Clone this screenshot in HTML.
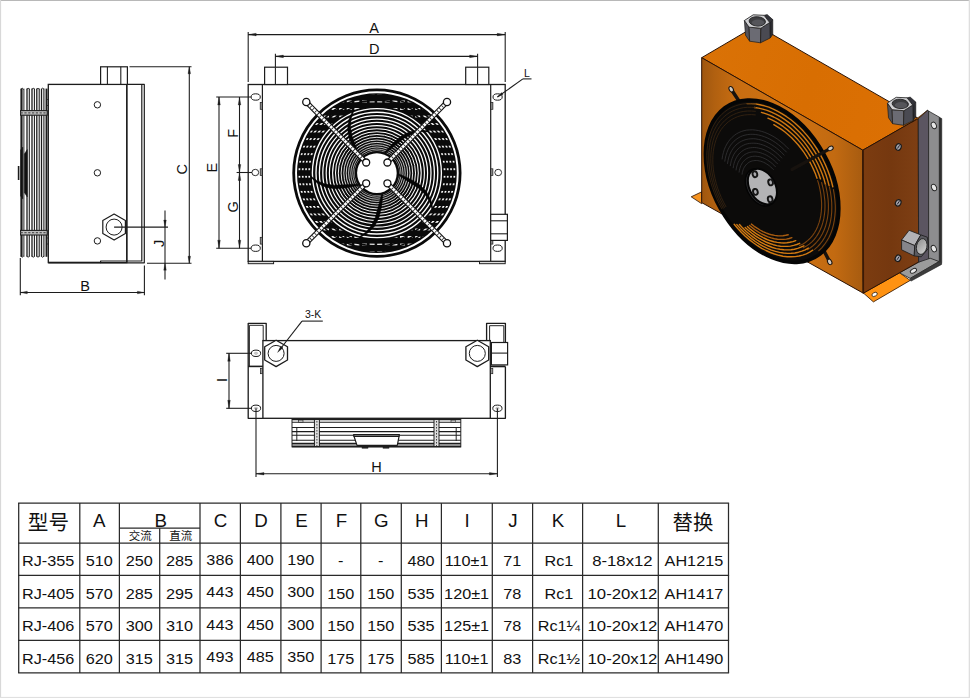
<!DOCTYPE html>
<html><head><meta charset="utf-8"><title>RJ air cooler dimensions</title>
<style>
html,body{margin:0;padding:0;background:#fff;}
body{width:970px;height:698px;overflow:hidden;font-family:"Liberation Sans",sans-serif;}
svg{display:block;font-family:"Liberation Sans",sans-serif;}
</style></head><body>
<svg width="970" height="698" viewBox="0 0 970 698">
<rect x="0" y="0" width="970" height="698" fill="#ffffff"/>
<g id="table">
<line x1="18.1" y1="503.1" x2="729.1" y2="503.1" stroke="#2a2a2a" stroke-width="1.25" />
<line x1="18.1" y1="543.0" x2="729.1" y2="543.0" stroke="#2a2a2a" stroke-width="1.25" />
<line x1="18.1" y1="575.4" x2="729.1" y2="575.4" stroke="#2a2a2a" stroke-width="1.25" />
<line x1="18.1" y1="607.9" x2="729.1" y2="607.9" stroke="#2a2a2a" stroke-width="1.25" />
<line x1="18.1" y1="640.4" x2="729.1" y2="640.4" stroke="#2a2a2a" stroke-width="1.25" />
<line x1="18.1" y1="672.9" x2="729.1" y2="672.9" stroke="#2a2a2a" stroke-width="1.25" />
<line x1="18.7" y1="503.1" x2="18.7" y2="672.9" stroke="#2a2a2a" stroke-width="1.25" />
<line x1="79.8" y1="503.1" x2="79.8" y2="672.9" stroke="#2a2a2a" stroke-width="1.25" />
<line x1="119.4" y1="503.1" x2="119.4" y2="672.9" stroke="#2a2a2a" stroke-width="1.25" />
<line x1="159.7" y1="528.2" x2="159.7" y2="672.9" stroke="#2a2a2a" stroke-width="1.25" />
<line x1="200.0" y1="503.1" x2="200.0" y2="672.9" stroke="#2a2a2a" stroke-width="1.25" />
<line x1="240.4" y1="503.1" x2="240.4" y2="672.9" stroke="#2a2a2a" stroke-width="1.25" />
<line x1="280.9" y1="503.1" x2="280.9" y2="672.9" stroke="#2a2a2a" stroke-width="1.25" />
<line x1="321.1" y1="503.1" x2="321.1" y2="672.9" stroke="#2a2a2a" stroke-width="1.25" />
<line x1="360.8" y1="503.1" x2="360.8" y2="672.9" stroke="#2a2a2a" stroke-width="1.25" />
<line x1="401.3" y1="503.1" x2="401.3" y2="672.9" stroke="#2a2a2a" stroke-width="1.25" />
<line x1="441.4" y1="503.1" x2="441.4" y2="672.9" stroke="#2a2a2a" stroke-width="1.25" />
<line x1="492.3" y1="503.1" x2="492.3" y2="672.9" stroke="#2a2a2a" stroke-width="1.25" />
<line x1="532.6" y1="503.1" x2="532.6" y2="672.9" stroke="#2a2a2a" stroke-width="1.25" />
<line x1="582.6" y1="503.1" x2="582.6" y2="672.9" stroke="#2a2a2a" stroke-width="1.25" />
<line x1="658.3" y1="503.1" x2="658.3" y2="672.9" stroke="#2a2a2a" stroke-width="1.25" />
<line x1="728.5" y1="503.1" x2="728.5" y2="672.9" stroke="#2a2a2a" stroke-width="1.25" />
<line x1="119.4" y1="528.2" x2="200.0" y2="528.2" stroke="#2a2a2a" stroke-width="1.25" />
<text x="48.45" y="530.2" font-size="20.6" text-anchor="middle" fill="#111" style="font-family:'Liberation Sans','Noto Sans CJK SC',sans-serif">型号</text>
<text transform="translate(99.3 527.2) scale(1.04 1)" font-size="18" text-anchor="middle" fill="#111">A</text>
<text transform="translate(160.7 527.2) scale(1.04 1)" font-size="18" text-anchor="middle" fill="#111">B</text>
<text x="140.35" y="539.7" font-size="11.5" text-anchor="middle" fill="#111" style="font-family:'Liberation Sans','Noto Sans CJK SC',sans-serif">交流</text>
<text x="180.65" y="539.7" font-size="11.5" text-anchor="middle" fill="#111" style="font-family:'Liberation Sans','Noto Sans CJK SC',sans-serif">直流</text>
<text transform="translate(220.6 527.2) scale(1.04 1)" font-size="18" text-anchor="middle" fill="#111">C</text>
<text transform="translate(261.0 527.2) scale(1.04 1)" font-size="18" text-anchor="middle" fill="#111">D</text>
<text transform="translate(301.4 527.2) scale(1.04 1)" font-size="18" text-anchor="middle" fill="#111">E</text>
<text transform="translate(341.4 527.2) scale(1.04 1)" font-size="18" text-anchor="middle" fill="#111">F</text>
<text transform="translate(381.4 527.2) scale(1.04 1)" font-size="18" text-anchor="middle" fill="#111">G</text>
<text transform="translate(421.8 527.2) scale(1.04 1)" font-size="18" text-anchor="middle" fill="#111">H</text>
<text transform="translate(467.2 527.2) scale(1.04 1)" font-size="18" text-anchor="middle" fill="#111">I</text>
<text transform="translate(512.9 527.2) scale(1.04 1)" font-size="18" text-anchor="middle" fill="#111">J</text>
<text transform="translate(558.0 527.2) scale(1.04 1)" font-size="18" text-anchor="middle" fill="#111">K</text>
<text transform="translate(620.9 527.2) scale(1.04 1)" font-size="18" text-anchor="middle" fill="#111">L</text>
<text x="693.0" y="530.0" font-size="20.4" text-anchor="middle" fill="#111" style="font-family:'Liberation Sans','Noto Sans CJK SC',sans-serif">替换</text>
<text transform="translate(48.1 566.2) scale(1.055 1)" font-size="15.4" text-anchor="middle" fill="#111">RJ-355</text>
<text transform="translate(99.3 566.2) scale(1.055 1)" font-size="15.4" text-anchor="middle" fill="#111">510</text>
<text transform="translate(139.2 566.2) scale(1.055 1)" font-size="15.4" text-anchor="middle" fill="#111">250</text>
<text transform="translate(179.5 566.2) scale(1.055 1)" font-size="15.4" text-anchor="middle" fill="#111">285</text>
<text transform="translate(219.9 565.0) scale(1.055 1)" font-size="15.4" text-anchor="middle" fill="#111">386</text>
<text transform="translate(260.3 565.0) scale(1.055 1)" font-size="15.4" text-anchor="middle" fill="#111">400</text>
<text transform="translate(300.7 565.0) scale(1.055 1)" font-size="15.4" text-anchor="middle" fill="#111">190</text>
<text transform="translate(340.7 566.2) scale(1.055 1)" font-size="15.4" text-anchor="middle" fill="#111">-</text>
<text transform="translate(380.8 566.2) scale(1.055 1)" font-size="15.4" text-anchor="middle" fill="#111">-</text>
<text transform="translate(421.1 566.2) scale(1.055 1)" font-size="15.4" text-anchor="middle" fill="#111">480</text>
<text transform="translate(466.6 566.2) scale(1.055 1)" font-size="15.4" text-anchor="middle" fill="#111">110±1</text>
<text transform="translate(512.2 566.2) scale(1.055 1)" font-size="15.4" text-anchor="middle" fill="#111">71</text>
<text transform="translate(558.9 566.2) scale(1.055 1)" font-size="15.4" text-anchor="middle" fill="#111">Rc1</text>
<text transform="translate(622.4 566.2) scale(1.08665 1)" font-size="15.4" text-anchor="middle" fill="#111">8-18x12</text>
<text transform="translate(693.9 566.2) scale(1.055 1)" font-size="15.4" text-anchor="middle" fill="#111">AH1215</text>
<text transform="translate(48.1 598.6) scale(1.055 1)" font-size="15.4" text-anchor="middle" fill="#111">RJ-405</text>
<text transform="translate(99.3 598.6) scale(1.055 1)" font-size="15.4" text-anchor="middle" fill="#111">570</text>
<text transform="translate(139.2 598.6) scale(1.055 1)" font-size="15.4" text-anchor="middle" fill="#111">285</text>
<text transform="translate(179.5 598.6) scale(1.055 1)" font-size="15.4" text-anchor="middle" fill="#111">295</text>
<text transform="translate(219.9 597.4) scale(1.055 1)" font-size="15.4" text-anchor="middle" fill="#111">443</text>
<text transform="translate(260.3 597.4) scale(1.055 1)" font-size="15.4" text-anchor="middle" fill="#111">450</text>
<text transform="translate(300.7 597.4) scale(1.055 1)" font-size="15.4" text-anchor="middle" fill="#111">300</text>
<text transform="translate(340.7 598.6) scale(1.055 1)" font-size="15.4" text-anchor="middle" fill="#111">150</text>
<text transform="translate(380.8 598.6) scale(1.055 1)" font-size="15.4" text-anchor="middle" fill="#111">150</text>
<text transform="translate(421.1 598.6) scale(1.055 1)" font-size="15.4" text-anchor="middle" fill="#111">535</text>
<text transform="translate(466.6 598.6) scale(1.055 1)" font-size="15.4" text-anchor="middle" fill="#111">120±1</text>
<text transform="translate(512.2 598.6) scale(1.055 1)" font-size="15.4" text-anchor="middle" fill="#111">78</text>
<text transform="translate(558.9 598.6) scale(1.055 1)" font-size="15.4" text-anchor="middle" fill="#111">Rc1</text>
<text transform="translate(622.4 598.6) scale(1.08665 1)" font-size="15.4" text-anchor="middle" fill="#111">10-20x12</text>
<text transform="translate(693.9 598.6) scale(1.055 1)" font-size="15.4" text-anchor="middle" fill="#111">AH1417</text>
<text transform="translate(48.1 631.1) scale(1.055 1)" font-size="15.4" text-anchor="middle" fill="#111">RJ-406</text>
<text transform="translate(99.3 631.1) scale(1.055 1)" font-size="15.4" text-anchor="middle" fill="#111">570</text>
<text transform="translate(139.2 631.1) scale(1.055 1)" font-size="15.4" text-anchor="middle" fill="#111">300</text>
<text transform="translate(179.5 631.1) scale(1.055 1)" font-size="15.4" text-anchor="middle" fill="#111">310</text>
<text transform="translate(219.9 629.9) scale(1.055 1)" font-size="15.4" text-anchor="middle" fill="#111">443</text>
<text transform="translate(260.3 629.9) scale(1.055 1)" font-size="15.4" text-anchor="middle" fill="#111">450</text>
<text transform="translate(300.7 629.9) scale(1.055 1)" font-size="15.4" text-anchor="middle" fill="#111">300</text>
<text transform="translate(340.7 631.1) scale(1.055 1)" font-size="15.4" text-anchor="middle" fill="#111">150</text>
<text transform="translate(380.8 631.1) scale(1.055 1)" font-size="15.4" text-anchor="middle" fill="#111">150</text>
<text transform="translate(421.1 631.1) scale(1.055 1)" font-size="15.4" text-anchor="middle" fill="#111">535</text>
<text transform="translate(466.6 631.1) scale(1.055 1)" font-size="15.4" text-anchor="middle" fill="#111">125±1</text>
<text transform="translate(512.2 631.1) scale(1.055 1)" font-size="15.4" text-anchor="middle" fill="#111">78</text>
<text transform="translate(558.9 631.1) scale(1.055 1)" font-size="15.4" text-anchor="middle" fill="#111">Rc1¼</text>
<text transform="translate(622.4 631.1) scale(1.08665 1)" font-size="15.4" text-anchor="middle" fill="#111">10-20x12</text>
<text transform="translate(693.9 631.1) scale(1.055 1)" font-size="15.4" text-anchor="middle" fill="#111">AH1470</text>
<text transform="translate(48.1 663.6) scale(1.055 1)" font-size="15.4" text-anchor="middle" fill="#111">RJ-456</text>
<text transform="translate(99.3 663.6) scale(1.055 1)" font-size="15.4" text-anchor="middle" fill="#111">620</text>
<text transform="translate(139.2 663.6) scale(1.055 1)" font-size="15.4" text-anchor="middle" fill="#111">315</text>
<text transform="translate(179.5 663.6) scale(1.055 1)" font-size="15.4" text-anchor="middle" fill="#111">315</text>
<text transform="translate(219.9 662.4) scale(1.055 1)" font-size="15.4" text-anchor="middle" fill="#111">493</text>
<text transform="translate(260.3 662.4) scale(1.055 1)" font-size="15.4" text-anchor="middle" fill="#111">485</text>
<text transform="translate(300.7 662.4) scale(1.055 1)" font-size="15.4" text-anchor="middle" fill="#111">350</text>
<text transform="translate(340.7 663.6) scale(1.055 1)" font-size="15.4" text-anchor="middle" fill="#111">175</text>
<text transform="translate(380.8 663.6) scale(1.055 1)" font-size="15.4" text-anchor="middle" fill="#111">175</text>
<text transform="translate(421.1 663.6) scale(1.055 1)" font-size="15.4" text-anchor="middle" fill="#111">585</text>
<text transform="translate(466.6 663.6) scale(1.055 1)" font-size="15.4" text-anchor="middle" fill="#111">110±1</text>
<text transform="translate(512.2 663.6) scale(1.055 1)" font-size="15.4" text-anchor="middle" fill="#111">83</text>
<text transform="translate(558.9 663.6) scale(1.055 1)" font-size="15.4" text-anchor="middle" fill="#111">Rc1½</text>
<text transform="translate(622.4 663.6) scale(1.08665 1)" font-size="15.4" text-anchor="middle" fill="#111">10-20x12</text>
<text transform="translate(693.9 663.6) scale(1.055 1)" font-size="15.4" text-anchor="middle" fill="#111">AH1490</text>
</g>
<g id="side">
<line x1="21.5" y1="88.6" x2="21.5" y2="256.8" stroke="#1c1c1c" stroke-width="2.2" />
<line x1="23.9" y1="88.6" x2="23.9" y2="256.8" stroke="#1c1c1c" stroke-width="0.96" />
<line x1="27.0" y1="88.6" x2="27.0" y2="256.8" stroke="#1c1c1c" stroke-width="1.3" />
<line x1="29.3" y1="88.6" x2="29.3" y2="256.8" stroke="#1c1c1c" stroke-width="1.08" />
<line x1="32.0" y1="88.6" x2="32.0" y2="256.8" stroke="#1c1c1c" stroke-width="1.3" />
<line x1="34.4" y1="88.6" x2="34.4" y2="256.8" stroke="#1c1c1c" stroke-width="1.08" />
<line x1="36.8" y1="88.6" x2="36.8" y2="256.8" stroke="#1c1c1c" stroke-width="1.3" />
<line x1="39.2" y1="88.6" x2="39.2" y2="256.8" stroke="#1c1c1c" stroke-width="1.08" />
<line x1="41.5" y1="88.6" x2="41.5" y2="256.8" stroke="#1c1c1c" stroke-width="1.3" />
<line x1="43.9" y1="88.6" x2="43.9" y2="256.8" stroke="#1c1c1c" stroke-width="1.08" />
<line x1="46.5" y1="88.6" x2="46.5" y2="256.8" stroke="#1c1c1c" stroke-width="1.9" />
<path d="M20.8 89.5 Q22.2 86.8 23.6 89.5" fill="none" stroke="#1c1c1c" stroke-width="0.9"/>
<path d="M20.8 256 Q22.2 258.6 23.6 256" fill="none" stroke="#1c1c1c" stroke-width="0.9"/>
<path d="M26.7 89.5 Q28.1 86.8 29.5 89.5" fill="none" stroke="#1c1c1c" stroke-width="0.9"/>
<path d="M26.7 256 Q28.1 258.6 29.5 256" fill="none" stroke="#1c1c1c" stroke-width="0.9"/>
<path d="M31.8 89.5 Q33.2 86.8 34.6 89.5" fill="none" stroke="#1c1c1c" stroke-width="0.9"/>
<path d="M31.8 256 Q33.2 258.6 34.6 256" fill="none" stroke="#1c1c1c" stroke-width="0.9"/>
<path d="M36.6 89.5 Q38.0 86.8 39.4 89.5" fill="none" stroke="#1c1c1c" stroke-width="0.9"/>
<path d="M36.6 256 Q38.0 258.6 39.4 256" fill="none" stroke="#1c1c1c" stroke-width="0.9"/>
<path d="M41.3 89.5 Q42.7 86.8 44.1 89.5" fill="none" stroke="#1c1c1c" stroke-width="0.9"/>
<path d="M41.3 256 Q42.7 258.6 44.1 256" fill="none" stroke="#1c1c1c" stroke-width="0.9"/>
<rect x="20.6" y="110.6" width="26.6" height="4.6" fill="#bdbdbd" stroke="#1c1c1c" stroke-width="1.08"/>
<line x1="20.6" y1="112.9" x2="47.2" y2="112.9" stroke="#555" stroke-width="1.2" stroke-dasharray="2.2 1.6"/>
<rect x="20.6" y="230.4" width="26.6" height="4.6" fill="#bdbdbd" stroke="#1c1c1c" stroke-width="1.08"/>
<line x1="20.6" y1="232.7" x2="47.2" y2="232.7" stroke="#555" stroke-width="1.2" stroke-dasharray="2.2 1.6"/>
<path d="M20.6 150.0 L22.8 147.0 L22.8 199.0 L20.6 196.0 Z" fill="#111" stroke="#1c1c1c" stroke-width="0.5" stroke-linejoin="round" />
<path d="M24.3 154.0 L27.3 149.5 L27.3 197.0 L24.3 192.5 Z" fill="#111" stroke="#1c1c1c" stroke-width="0.5" stroke-linejoin="round" />
<line x1="18.6" y1="166.0" x2="18.6" y2="180.0" stroke="#1c1c1c" stroke-width="1.6" />
<rect x="46.6" y="99.5" width="1.8" height="6.0" fill="none" stroke="#1c1c1c" stroke-width="0.7"/>
<rect x="46.6" y="238.0" width="1.8" height="6.0" fill="none" stroke="#1c1c1c" stroke-width="0.7"/>
<rect x="48.3" y="84.4" width="78.5" height="178.2" fill="#fff" stroke="#1c1c1c" stroke-width="1.32"/>
<line x1="126.8" y1="84.4" x2="126.8" y2="262.6" stroke="#1c1c1c" stroke-width="1.2" />
<path d="M126.8 84.4 L144.3 84.4 L144.3 262.8 L100.6 262.8 L100.6 261.0 L141.8 261.0 L141.8 84.4" fill="none" stroke="#1c1c1c" stroke-width="1.2" stroke-linejoin="round" />
<line x1="48.3" y1="262.6" x2="100.6" y2="262.6" stroke="#1c1c1c" stroke-width="1.6" />
<rect x="100.6" y="66.8" width="26.8" height="17.6" fill="#fff" stroke="#1c1c1c" stroke-width="1.2"/>
<line x1="107.4" y1="66.8" x2="107.4" y2="84.4" stroke="#1c1c1c" stroke-width="1.08" />
<line x1="120.8" y1="66.8" x2="120.8" y2="84.4" stroke="#1c1c1c" stroke-width="1.08" />
<circle cx="97.4" cy="104.8" r="3.20" fill="none" stroke="#1c1c1c" stroke-width="1" />
<circle cx="97.4" cy="172.8" r="3.20" fill="none" stroke="#1c1c1c" stroke-width="1" />
<circle cx="97.4" cy="240.9" r="3.20" fill="none" stroke="#1c1c1c" stroke-width="1" />
<path d="M114.1 240.1 L102.8 233.6 L102.8 220.6 L114.1 214.1 L125.4 220.6 L125.4 233.6 Z" fill="#fff" stroke="#1c1c1c" stroke-width="1.2" stroke-linejoin="round" />
<circle cx="114.1" cy="227.1" r="8.00" fill="none" stroke="#1c1c1c" stroke-width="1" />
<line x1="129.5" y1="66.8" x2="191.5" y2="66.8" stroke="#1c1c1c" stroke-width="1.08" />
<line x1="147.0" y1="263.2" x2="191.5" y2="263.2" stroke="#1c1c1c" stroke-width="1.08" />
<line x1="189.3" y1="66.8" x2="189.3" y2="263.2" stroke="#1c1c1c" stroke-width="1.08" />
<path d="M189.3 66.8 L190.6 73.8 L188.0 73.8 Z" fill="#1c1c1c" stroke="#1c1c1c" stroke-width="0.3" stroke-linejoin="round" />
<path d="M189.3 263.2 L188.0 256.2 L190.6 256.2 Z" fill="#1c1c1c" stroke="#1c1c1c" stroke-width="0.3" stroke-linejoin="round" />
<text transform="translate(186.9 169.2) rotate(-90)" font-size="14.5" text-anchor="middle" fill="#111">C</text>
<line x1="114.1" y1="227.1" x2="168.0" y2="227.1" stroke="#1c1c1c" stroke-width="1.08" />
<line x1="165.0" y1="210.6" x2="165.0" y2="279.6" stroke="#1c1c1c" stroke-width="1.08" />
<path d="M165.0 227.1 L163.7 220.1 L166.3 220.1 Z" fill="#1c1c1c" stroke="#1c1c1c" stroke-width="0.3" stroke-linejoin="round" />
<path d="M165.0 263.2 L166.3 270.2 L163.7 270.2 Z" fill="#1c1c1c" stroke="#1c1c1c" stroke-width="0.3" stroke-linejoin="round" />
<text transform="translate(163.8 243.4) rotate(-90)" font-size="14.5" text-anchor="middle" fill="#111">J</text>
<line x1="20.3" y1="258.0" x2="20.3" y2="295.2" stroke="#1c1c1c" stroke-width="1.08" />
<line x1="144.4" y1="265.6" x2="144.4" y2="295.2" stroke="#1c1c1c" stroke-width="1.08" />
<line x1="20.3" y1="292.5" x2="144.4" y2="292.5" stroke="#1c1c1c" stroke-width="1.08" />
<path d="M20.3 292.5 L27.3 291.2 L27.3 293.8 Z" fill="#1c1c1c" stroke="#1c1c1c" stroke-width="0.3" stroke-linejoin="round" />
<path d="M144.4 292.5 L137.4 293.8 L137.4 291.2 Z" fill="#1c1c1c" stroke="#1c1c1c" stroke-width="0.3" stroke-linejoin="round" />
<text x="85.2" y="290.9" font-size="14.5" text-anchor="middle" fill="#111" >B</text>
</g>
<g id="front">
<rect x="248.2" y="84.5" width="257.0" height="176.9" fill="#fff" stroke="#1c1c1c" stroke-width="1.32"/>
<line x1="262.4" y1="84.5" x2="262.4" y2="261.4" stroke="#1c1c1c" stroke-width="1.2" />
<line x1="490.7" y1="84.5" x2="490.7" y2="261.4" stroke="#1c1c1c" stroke-width="1.2" />
<rect x="248.2" y="261.4" width="25.4" height="2.3" fill="#ddd" stroke="#1c1c1c" stroke-width="0.96"/>
<rect x="479.5" y="261.4" width="25.7" height="2.3" fill="#ddd" stroke="#1c1c1c" stroke-width="0.96"/>
<rect x="264.6" y="67.2" width="22.9" height="17.3" fill="#fff" stroke="#1c1c1c" stroke-width="1.2"/>
<line x1="275.4" y1="67.2" x2="275.4" y2="84.5" stroke="#1c1c1c" stroke-width="1.08" />
<rect x="465.7" y="67.2" width="23.1" height="17.3" fill="#fff" stroke="#1c1c1c" stroke-width="1.2"/>
<line x1="477.6" y1="67.2" x2="477.6" y2="84.5" stroke="#1c1c1c" stroke-width="1.08" />
<ellipse cx="255.7" cy="97.0" rx="4.60" ry="3.20" fill="none" stroke="#1c1c1c" stroke-width="1.0" />
<ellipse cx="255.7" cy="248.2" rx="4.60" ry="3.20" fill="none" stroke="#1c1c1c" stroke-width="1.0" />
<ellipse cx="255.3" cy="172.5" rx="3.40" ry="3.20" fill="none" stroke="#1c1c1c" stroke-width="0.9" />
<ellipse cx="497.6" cy="97.0" rx="4.60" ry="3.20" fill="none" stroke="#1c1c1c" stroke-width="1.0" />
<ellipse cx="497.6" cy="248.2" rx="4.60" ry="3.20" fill="none" stroke="#1c1c1c" stroke-width="1.0" />
<ellipse cx="498.2" cy="172.5" rx="3.40" ry="3.20" fill="none" stroke="#1c1c1c" stroke-width="0.9" />
<rect x="260.2" y="102.5" width="2.2" height="6.8" fill="#888" stroke="#1c1c1c" stroke-width="0.7"/>
<rect x="260.2" y="168.8" width="2.2" height="6.8" fill="#888" stroke="#1c1c1c" stroke-width="0.7"/>
<rect x="260.2" y="237.3" width="2.2" height="6.8" fill="#888" stroke="#1c1c1c" stroke-width="0.7"/>
<rect x="490.7" y="102.5" width="2.2" height="6.8" fill="#888" stroke="#1c1c1c" stroke-width="0.7"/>
<rect x="490.7" y="168.8" width="2.2" height="6.8" fill="#888" stroke="#1c1c1c" stroke-width="0.7"/>
<rect x="490.7" y="237.3" width="2.2" height="6.8" fill="#888" stroke="#1c1c1c" stroke-width="0.7"/>
<rect x="490.7" y="214.3" width="16.7" height="26.1" fill="#fff" stroke="#1c1c1c" stroke-width="1.2"/>
<line x1="490.7" y1="220.8" x2="507.4" y2="220.8" stroke="#1c1c1c" stroke-width="1.08" />
<line x1="490.7" y1="233.8" x2="507.4" y2="233.8" stroke="#1c1c1c" stroke-width="1.08" />
<circle cx="376.9" cy="173.1" r="42.30" fill="none" stroke="#0a0a0a" stroke-width="84.6" />
<circle cx="376.9" cy="173.1" r="80.85" fill="none" stroke="#fff" stroke-width="1.9" />
<defs><pattern id="scanp" patternUnits="userSpaceOnUse" x="0" y="100.55" width="20" height="7.53"><rect x="0" y="0" width="20" height="1.75" fill="#fff"/></pattern><mask id="scanm" maskUnits="userSpaceOnUse" x="285" y="80" width="185" height="185"><rect x="285" y="80" width="185" height="185" fill="#000"/><rect x="285" y="80" width="185" height="185" fill="url(#scanp)"/><rect x="329.0" y="80" width="2.6" height="185" fill="#000"/><rect x="336.6" y="80" width="2.6" height="185" fill="#000"/><rect x="344.2" y="80" width="2.6" height="185" fill="#000"/><rect x="351.8" y="80" width="2.6" height="185" fill="#000"/><rect x="359.4" y="80" width="2.6" height="185" fill="#000"/><rect x="367.0" y="80" width="2.6" height="185" fill="#000"/><rect x="374.6" y="80" width="2.6" height="185" fill="#000"/><rect x="382.2" y="80" width="2.6" height="185" fill="#000"/><rect x="389.8" y="80" width="2.6" height="185" fill="#000"/><rect x="397.4" y="80" width="2.6" height="185" fill="#000"/><rect x="405.0" y="80" width="2.6" height="185" fill="#000"/><rect x="412.6" y="80" width="2.6" height="185" fill="#000"/><rect x="420.2" y="80" width="2.6" height="185" fill="#000"/></mask></defs>
<g mask="url(#scanm)">
<circle cx="376.9" cy="173.1" r="77.60" fill="none" stroke="#fff" stroke-width="1.7" />
<circle cx="376.9" cy="173.1" r="74.30" fill="none" stroke="#fff" stroke-width="1.7" />
<circle cx="376.9" cy="173.1" r="71.00" fill="none" stroke="#fff" stroke-width="1.7" />
<circle cx="376.9" cy="173.1" r="67.80" fill="none" stroke="#fff" stroke-width="1.7" />
</g>
<circle cx="376.9" cy="173.1" r="64.50" fill="none" stroke="#fff" stroke-width="1.35" />
<circle cx="376.9" cy="173.1" r="60.90" fill="none" stroke="#fff" stroke-width="1.35" />
<circle cx="376.9" cy="173.1" r="57.50" fill="none" stroke="#fff" stroke-width="1.3" />
<circle cx="376.9" cy="173.1" r="54.10" fill="none" stroke="#fff" stroke-width="1.25" />
<circle cx="376.9" cy="173.1" r="50.70" fill="none" stroke="#fff" stroke-width="1.2" />
<circle cx="376.9" cy="173.1" r="47.50" fill="none" stroke="#fff" stroke-width="1.15" />
<circle cx="376.9" cy="173.1" r="44.30" fill="none" stroke="#fff" stroke-width="1.1" />
<circle cx="376.9" cy="173.1" r="41.40" fill="none" stroke="#fff" stroke-width="1.05" />
<circle cx="376.9" cy="173.1" r="38.60" fill="none" stroke="#fff" stroke-width="1.0" />
<circle cx="376.9" cy="173.1" r="35.80" fill="none" stroke="#fff" stroke-width="0.9" />
<circle cx="376.9" cy="173.1" r="33.10" fill="none" stroke="#fff" stroke-width="0.85" />
<circle cx="376.9" cy="173.1" r="30.70" fill="none" stroke="#fff" stroke-width="0.8" />
<circle cx="376.9" cy="173.1" r="28.30" fill="none" stroke="#fff" stroke-width="0.75" />
<circle cx="376.9" cy="173.1" r="26.10" fill="none" stroke="#fff" stroke-width="0.7" />
<circle cx="376.9" cy="173.1" r="24.10" fill="none" stroke="#fff" stroke-width="0.65" />
<circle cx="376.9" cy="173.1" r="22.30" fill="none" stroke="#fff" stroke-width="0.6" />
<path d="M360.1 184.9 L355.9 186.0 L346.7 187.8 L335.5 188.8 L326.1 187.4 L317.8 183.5 L310.5 177.2 L310.5 175.8 L317.4 180.9 L325.3 184.1 L334.3 185.2 L345.4 184.8 L355.0 184.2 L359.7 184.2 Z" fill="#050505" stroke="#050505" stroke-width="0.5" stroke-linejoin="round"/>
<path d="M360.5 160.8 L358.2 157.1 L353.6 148.9 L349.1 138.6 L347.6 129.2 L348.7 120.1 L352.5 111.2 L353.8 110.7 L351.1 119.0 L350.5 127.4 L352.2 136.3 L356.0 146.8 L359.6 155.7 L361.0 160.1 Z" fill="#050505" stroke="#050505" stroke-width="0.5" stroke-linejoin="round"/>
<path d="M383.6 153.7 L386.3 150.4 L392.7 143.4 L401.2 136.0 L409.6 131.7 L418.6 129.9 L428.2 130.8 L429.1 131.9 L420.4 131.8 L412.2 133.9 L404.2 138.2 L395.5 145.1 L388.1 151.2 L384.3 154.0 Z" fill="#050505" stroke="#050505" stroke-width="0.5" stroke-linejoin="round"/>
<path d="M397.4 173.5 L401.4 175.0 L410.0 178.9 L419.7 184.7 L426.4 191.4 L430.8 199.4 L433.0 208.8 L432.2 210.0 L429.6 201.7 L425.1 194.6 L418.5 188.3 L409.3 182.2 L401.2 177.0 L397.4 174.3 Z" fill="#050505" stroke="#050505" stroke-width="0.5" stroke-linejoin="round"/>
<path d="M382.9 192.7 L382.6 197.0 L381.6 206.4 L379.1 217.3 L374.8 225.9 L368.5 232.5 L360.2 237.5 L358.9 237.1 L366.0 232.1 L371.4 225.6 L375.3 217.4 L378.3 206.7 L380.7 197.4 L382.1 192.9 Z" fill="#050505" stroke="#050505" stroke-width="0.5" stroke-linejoin="round"/>
<circle cx="376.9" cy="173.1" r="21.00" fill="none" stroke="#0a0a0a" stroke-width="2.4" />
<circle cx="376.9" cy="173.1" r="19.80" fill="#fff" stroke="none" stroke-width="0" />
<line x1="366.2" y1="162.5" x2="306.3" y2="102.0" stroke="#111" stroke-width="5.0" />
<line x1="366.2" y1="162.5" x2="306.3" y2="102.0" stroke="#fff" stroke-width="2.8" />
<line x1="366.2" y1="162.5" x2="306.3" y2="102.0" stroke="#222" stroke-width="2.8" stroke-dasharray="0.8 2.6"/>
<circle cx="306.3" cy="102.0" r="3.60" fill="#fff" stroke="#111" stroke-width="1.3" />
<circle cx="366.2" cy="162.5" r="3.50" fill="#fff" stroke="#111" stroke-width="1.3" />
<line x1="387.4" y1="162.5" x2="447.0" y2="102.0" stroke="#111" stroke-width="5.0" />
<line x1="387.4" y1="162.5" x2="447.0" y2="102.0" stroke="#fff" stroke-width="2.8" />
<line x1="387.4" y1="162.5" x2="447.0" y2="102.0" stroke="#222" stroke-width="2.8" stroke-dasharray="0.8 2.6"/>
<circle cx="447.0" cy="102.0" r="3.60" fill="#fff" stroke="#111" stroke-width="1.3" />
<circle cx="387.4" cy="162.5" r="3.50" fill="#fff" stroke="#111" stroke-width="1.3" />
<line x1="366.2" y1="183.3" x2="306.3" y2="243.2" stroke="#111" stroke-width="5.0" />
<line x1="366.2" y1="183.3" x2="306.3" y2="243.2" stroke="#fff" stroke-width="2.8" />
<line x1="366.2" y1="183.3" x2="306.3" y2="243.2" stroke="#222" stroke-width="2.8" stroke-dasharray="0.8 2.6"/>
<circle cx="306.3" cy="243.2" r="3.60" fill="#fff" stroke="#111" stroke-width="1.3" />
<circle cx="366.2" cy="183.3" r="3.50" fill="#fff" stroke="#111" stroke-width="1.3" />
<line x1="387.4" y1="183.3" x2="447.0" y2="243.2" stroke="#111" stroke-width="5.0" />
<line x1="387.4" y1="183.3" x2="447.0" y2="243.2" stroke="#fff" stroke-width="2.8" />
<line x1="387.4" y1="183.3" x2="447.0" y2="243.2" stroke="#222" stroke-width="2.8" stroke-dasharray="0.8 2.6"/>
<circle cx="447.0" cy="243.2" r="3.60" fill="#fff" stroke="#111" stroke-width="1.3" />
<circle cx="387.4" cy="183.3" r="3.50" fill="#fff" stroke="#111" stroke-width="1.3" />
<line x1="248.2" y1="32.0" x2="248.2" y2="82.0" stroke="#1c1c1c" stroke-width="1.08" />
<line x1="505.2" y1="32.0" x2="505.2" y2="82.0" stroke="#1c1c1c" stroke-width="1.08" />
<line x1="248.2" y1="34.6" x2="505.2" y2="34.6" stroke="#1c1c1c" stroke-width="1.08" />
<path d="M248.2 34.6 L256.2 33.3 L256.2 35.9 Z" fill="#1c1c1c" stroke="#1c1c1c" stroke-width="0.3" stroke-linejoin="round" />
<path d="M505.2 34.6 L497.2 35.9 L497.2 33.3 Z" fill="#1c1c1c" stroke="#1c1c1c" stroke-width="0.3" stroke-linejoin="round" />
<text x="374.2" y="33.4" font-size="14.5" text-anchor="middle" fill="#111" >A</text>
<line x1="275.4" y1="53.8" x2="275.4" y2="67.0" stroke="#1c1c1c" stroke-width="1.08" />
<line x1="477.6" y1="53.8" x2="477.6" y2="67.0" stroke="#1c1c1c" stroke-width="1.08" />
<line x1="275.4" y1="56.4" x2="477.6" y2="56.4" stroke="#1c1c1c" stroke-width="1.08" />
<path d="M275.4 56.4 L283.4 55.1 L283.4 57.7 Z" fill="#1c1c1c" stroke="#1c1c1c" stroke-width="0.3" stroke-linejoin="round" />
<path d="M477.6 56.4 L469.6 57.7 L469.6 55.1 Z" fill="#1c1c1c" stroke="#1c1c1c" stroke-width="0.3" stroke-linejoin="round" />
<text x="374.2" y="54.2" font-size="14.5" text-anchor="middle" fill="#111" >D</text>
<line x1="216.2" y1="97.0" x2="251.0" y2="97.0" stroke="#1c1c1c" stroke-width="1.08" />
<line x1="216.2" y1="248.2" x2="251.0" y2="248.2" stroke="#1c1c1c" stroke-width="1.08" />
<line x1="236.6" y1="172.5" x2="252.0" y2="172.5" stroke="#1c1c1c" stroke-width="1.08" />
<line x1="219.0" y1="97.0" x2="219.0" y2="248.2" stroke="#1c1c1c" stroke-width="1.08" />
<path d="M219.0 97.0 L220.3 105.0 L217.7 105.0 Z" fill="#1c1c1c" stroke="#1c1c1c" stroke-width="0.3" stroke-linejoin="round" />
<path d="M219.0 248.2 L217.7 240.2 L220.3 240.2 Z" fill="#1c1c1c" stroke="#1c1c1c" stroke-width="0.3" stroke-linejoin="round" />
<line x1="239.5" y1="97.0" x2="239.5" y2="248.2" stroke="#1c1c1c" stroke-width="1.08" />
<path d="M239.5 97.0 L240.8 105.0 L238.2 105.0 Z" fill="#1c1c1c" stroke="#1c1c1c" stroke-width="0.3" stroke-linejoin="round" />
<path d="M239.5 248.2 L238.2 240.2 L240.8 240.2 Z" fill="#1c1c1c" stroke="#1c1c1c" stroke-width="0.3" stroke-linejoin="round" />
<path d="M239.5 172.5 L238.2 164.5 L240.8 164.5 Z" fill="#1c1c1c" stroke="#1c1c1c" stroke-width="0.3" stroke-linejoin="round" />
<path d="M239.5 172.5 L240.8 180.5 L238.2 180.5 Z" fill="#1c1c1c" stroke="#1c1c1c" stroke-width="0.3" stroke-linejoin="round" />
<text transform="translate(217.3 167.6) rotate(-90)" font-size="14.5" text-anchor="middle" fill="#111">E</text>
<text transform="translate(237.6 133.3) rotate(-90)" font-size="14.5" text-anchor="middle" fill="#111">F</text>
<text transform="translate(237.6 206.8) rotate(-90)" font-size="14.5" text-anchor="middle" fill="#111">G</text>
<line x1="497.4" y1="97.0" x2="522.9" y2="78.9" stroke="#1c1c1c" stroke-width="1.08" />
<line x1="522.9" y1="78.9" x2="531.5" y2="78.9" stroke="#1c1c1c" stroke-width="1.08" />
<path d="M497.4 97.0 L501.6 92.6 L503.0 94.5 Z" fill="#1c1c1c" stroke="#1c1c1c" stroke-width="0.3" stroke-linejoin="round" />
<text x="526.8" y="76.6" font-size="10.5" text-anchor="middle" fill="#111" >L</text>
</g>
<g id="plan">
<rect x="262.9" y="340.6" width="227.4" height="77.7" fill="#fff" stroke="#1c1c1c" stroke-width="1.32"/>
<path d="M262.9 418.3 L248.2 418.3 L248.2 323.3 L266.2 323.3 L266.2 340.6" fill="none" stroke="#1c1c1c" stroke-width="1.32" stroke-linejoin="round" />
<path d="M249.4 366.0 L249.4 325.3 L263.2 325.3 L263.2 340.6" fill="none" stroke="#1c1c1c" stroke-width="0.96" stroke-linejoin="round" />
<line x1="248.2" y1="366.4" x2="262.9" y2="366.4" stroke="#1c1c1c" stroke-width="1.6" />
<rect x="260.4" y="368.5" width="2.2" height="5.2" fill="#999" stroke="#1c1c1c" stroke-width="0.7"/>
<path d="M490.3 418.3 L505.4 418.3 L505.4 366.4" fill="none" stroke="#1c1c1c" stroke-width="1.32" stroke-linejoin="round" />
<path d="M486.6 340.6 L486.6 323.3 L505.4 323.3 L505.4 342.5" fill="none" stroke="#1c1c1c" stroke-width="1.32" stroke-linejoin="round" />
<path d="M489.6 340.6 L489.6 325.7 L503.8 325.7 L503.8 342.5" fill="none" stroke="#1c1c1c" stroke-width="0.96" stroke-linejoin="round" />
<rect x="491.4" y="342.5" width="16.2" height="22.4" fill="#fff" stroke="#1c1c1c" stroke-width="1.2"/>
<line x1="491.4" y1="353.1" x2="507.6" y2="353.1" stroke="#1c1c1c" stroke-width="1.08" />
<line x1="490.3" y1="366.4" x2="505.4" y2="366.4" stroke="#1c1c1c" stroke-width="1.8" />
<rect x="490.6" y="368.5" width="2.2" height="5.2" fill="#999" stroke="#1c1c1c" stroke-width="0.7"/>
<ellipse cx="256.0" cy="353.3" rx="4.60" ry="3.20" fill="none" stroke="#1c1c1c" stroke-width="1.0" />
<ellipse cx="256.0" cy="353.3" rx="1.70" ry="1.10" fill="#ccc" stroke="#aaa" stroke-width="0.6" />
<ellipse cx="256.0" cy="408.3" rx="4.60" ry="3.20" fill="none" stroke="#1c1c1c" stroke-width="1.0" />
<ellipse cx="256.0" cy="408.3" rx="1.70" ry="1.10" fill="#ccc" stroke="#aaa" stroke-width="0.6" />
<ellipse cx="497.4" cy="408.3" rx="4.60" ry="3.20" fill="none" stroke="#1c1c1c" stroke-width="1.0" />
<ellipse cx="497.4" cy="408.3" rx="1.70" ry="1.10" fill="#ccc" stroke="#aaa" stroke-width="0.6" />
<path d="M276.1 366.6 L264.7 360.0 L264.7 346.8 L276.1 340.2 L287.5 346.8 L287.5 360.0 Z" fill="#fff" stroke="#1c1c1c" stroke-width="1.32" stroke-linejoin="round" />
<circle cx="276.1" cy="353.4" r="8.00" fill="none" stroke="#1c1c1c" stroke-width="1" />
<path d="M477.3 366.6 L465.9 360.0 L465.9 346.8 L477.3 340.2 L488.7 346.8 L488.7 360.0 Z" fill="#fff" stroke="#1c1c1c" stroke-width="1.32" stroke-linejoin="round" />
<circle cx="477.3" cy="353.4" r="8.00" fill="none" stroke="#1c1c1c" stroke-width="1" />
<rect x="292.0" y="418.9" width="168.8" height="28.0" fill="#fff" stroke="#1c1c1c" stroke-width="0.96"/>
<line x1="292.0" y1="419.4" x2="460.8" y2="419.4" stroke="#1c1c1c" stroke-width="1.8" />
<line x1="292.0" y1="422.3" x2="460.8" y2="422.3" stroke="#1c1c1c" stroke-width="1.08" />
<line x1="292.0" y1="427.5" x2="460.8" y2="427.5" stroke="#1c1c1c" stroke-width="1.08" />
<line x1="292.0" y1="431.6" x2="460.8" y2="431.6" stroke="#1c1c1c" stroke-width="1.08" />
<line x1="292.0" y1="435.3" x2="460.8" y2="435.3" stroke="#1c1c1c" stroke-width="1.08" />
<line x1="292.0" y1="440.2" x2="460.8" y2="440.2" stroke="#1c1c1c" stroke-width="1.08" />
<line x1="292.0" y1="443.6" x2="460.8" y2="443.6" stroke="#1c1c1c" stroke-width="1.6" />
<line x1="292.0" y1="446.4" x2="460.8" y2="446.4" stroke="#1c1c1c" stroke-width="1.6" />
<rect x="314.4" y="419.5" width="5.0" height="27.0" fill="#ddd" stroke="#1c1c1c" stroke-width="0.96"/>
<line x1="316.9" y1="421.0" x2="316.9" y2="446.0" stroke="#333" stroke-width="0.9" stroke-dasharray="1.5 1.5"/>
<rect x="434.0" y="419.5" width="5.0" height="27.0" fill="#ddd" stroke="#1c1c1c" stroke-width="0.96"/>
<line x1="436.5" y1="421.0" x2="436.5" y2="446.0" stroke="#333" stroke-width="0.9" stroke-dasharray="1.5 1.5"/>
<rect x="298.5" y="420.2" width="4.5" height="1.8" fill="#fff" stroke="#1c1c1c" stroke-width="0.6"/>
<rect x="451.0" y="420.2" width="4.5" height="1.8" fill="#fff" stroke="#1c1c1c" stroke-width="0.6"/>
<line x1="296.8" y1="428.0" x2="296.8" y2="441.0" stroke="#1c1c1c" stroke-width="0.96" />
<line x1="456.2" y1="428.0" x2="456.2" y2="441.0" stroke="#1c1c1c" stroke-width="0.96" />
<path d="M353.5 434.7 L399.4 434.7 L397.3 445.4 L357.0 445.4 Z" fill="#fff" stroke="#1c1c1c" stroke-width="1.2" stroke-linejoin="round" />
<line x1="353.5" y1="436.2" x2="399.4" y2="436.2" stroke="#1c1c1c" stroke-width="1.4" />
<rect x="362.0" y="446.6" width="6.0" height="1.6" fill="#222" stroke="#1c1c1c" stroke-width="0.5"/>
<rect x="383.0" y="446.6" width="6.0" height="1.6" fill="#222" stroke="#1c1c1c" stroke-width="0.5"/>
<line x1="226.2" y1="353.3" x2="252.0" y2="353.3" stroke="#1c1c1c" stroke-width="1.08" />
<line x1="226.2" y1="408.3" x2="252.0" y2="408.3" stroke="#1c1c1c" stroke-width="1.08" />
<line x1="229.0" y1="353.3" x2="229.0" y2="408.3" stroke="#1c1c1c" stroke-width="1.08" />
<path d="M229.0 353.3 L230.3 361.3 L227.7 361.3 Z" fill="#1c1c1c" stroke="#1c1c1c" stroke-width="0.3" stroke-linejoin="round" />
<path d="M229.0 408.3 L227.7 400.3 L230.3 400.3 Z" fill="#1c1c1c" stroke="#1c1c1c" stroke-width="0.3" stroke-linejoin="round" />
<text transform="translate(227.2 380.1) rotate(-90)" font-size="14.5" text-anchor="middle" fill="#111">I</text>
<line x1="256.0" y1="408.3" x2="256.0" y2="477.0" stroke="#1c1c1c" stroke-width="1.08" />
<line x1="497.4" y1="408.3" x2="497.4" y2="477.0" stroke="#1c1c1c" stroke-width="1.08" />
<line x1="256.0" y1="473.7" x2="497.4" y2="473.7" stroke="#1c1c1c" stroke-width="1.08" />
<path d="M256.0 473.7 L264.0 472.4 L264.0 475.0 Z" fill="#1c1c1c" stroke="#1c1c1c" stroke-width="0.3" stroke-linejoin="round" />
<path d="M497.4 473.7 L489.4 475.0 L489.4 472.4 Z" fill="#1c1c1c" stroke="#1c1c1c" stroke-width="0.3" stroke-linejoin="round" />
<text x="376.5" y="471.8" font-size="14.5" text-anchor="middle" fill="#111" >H</text>
<line x1="302.0" y1="321.1" x2="322.8" y2="321.1" stroke="#1c1c1c" stroke-width="1.08" />
<line x1="302.0" y1="321.1" x2="279.5" y2="350.0" stroke="#1c1c1c" stroke-width="1.08" />
<path d="M277.6 352.4 L280.8 346.0 L283.0 347.7 Z" fill="#1c1c1c" stroke="#1c1c1c" stroke-width="0.3" stroke-linejoin="round" />
<text x="313.2" y="318.3" font-size="10.5" text-anchor="middle" fill="#111" >3-K</text>
</g>
<defs>
<linearGradient id="gFront" gradientUnits="userSpaceOnUse" x1="701" y1="0" x2="864" y2="0">
<stop offset="0" stop-color="#9e560f"/><stop offset="0.08" stop-color="#b06010"/><stop offset="0.22" stop-color="#c86d11"/>
<stop offset="0.55" stop-color="#ce7212"/><stop offset="0.82" stop-color="#c26a11"/><stop offset="1" stop-color="#a65b10"/>
</linearGradient>
<linearGradient id="gRight" gradientUnits="userSpaceOnUse" x1="863" y1="0" x2="919" y2="0">
<stop offset="0" stop-color="#7c3c10"/><stop offset="0.5" stop-color="#75380f"/><stop offset="1" stop-color="#7e3f14"/>
</linearGradient>
<linearGradient id="gTop" gradientUnits="userSpaceOnUse" x1="702" y1="58" x2="918" y2="118">
<stop offset="0" stop-color="#da7206"/><stop offset="0.5" stop-color="#d86e02"/><stop offset="1" stop-color="#dc7004"/>
</linearGradient>
<linearGradient id="gHole" x1="0" y1="0" x2="1" y2="1">
<stop offset="0" stop-color="#8c8c8c"/><stop offset="1" stop-color="#d4d4d4"/>
</linearGradient>
</defs>
<g id="iso" stroke-linejoin="round">
<path d="M691.2 196.8 L701.8 191.8 L701.8 203.8 Z" fill="#f59320" stroke="#2a1204" stroke-width="0.8" stroke-linejoin="round" />
<path d="M863.4 293.0 L873.4 301.9 L910.2 280.4 L899.6 272.8 Z" fill="#ff9212" stroke="#2a1204" stroke-width="0.8" stroke-linejoin="round" />
<ellipse cx="874.6" cy="294.4" rx="2.90" ry="1.80" fill="#fff" stroke="#3a2a1a" stroke-width="0.8" transform="rotate(-28 874.6 294.4)"/>
<path d="M899.6 272.8 L929.0 256.4 L939.0 261.6 L910.2 278.4 Z" fill="#9b9b9b" stroke="#222" stroke-width="0.8" stroke-linejoin="round" />
<path d="M910.2 278.4 L939.0 261.6 L941.6 262.8 L941.6 264.4 L911.2 281.0 L910.2 280.4 Z" fill="#3c3c3c" stroke="#222" stroke-width="0.6" stroke-linejoin="round" />
<ellipse cx="913.4" cy="270.8" rx="3.40" ry="2.00" fill="#e8e8e8" stroke="#222" stroke-width="0.9" transform="rotate(-28 913.4 270.8)"/>
<path d="M701.7 57.7 L756.7 25.4 L918.3 118.4 L862.8 150.2 Z" fill="url(#gTop)" stroke="#2a1204" stroke-width="1" stroke-linejoin="round" />
<path d="M701.7 57.7 L862.8 150.2 L863.3 293.2 L701.7 202.6 Z" fill="url(#gFront)" stroke="#2a1204" stroke-width="1" stroke-linejoin="round" />
<path d="M862.8 150.2 L918.3 118.4 L918.6 262.0 L863.3 293.2 Z" fill="url(#gRight)" stroke="#2a1204" stroke-width="1" stroke-linejoin="round" />
<line x1="863.0" y1="150.2" x2="863.3" y2="293.2" stroke="#3a1a06" stroke-width="1.6" />
<path d="M918.3 118.6 L927.4 110.4 L928.6 111.4 L928.6 258.8 L918.6 262.2 Z" fill="#5b5561" stroke="#222" stroke-width="0.8" stroke-linejoin="round" />
<path d="M927.4 110.4 L939.4 117.2 L939.4 261.6 L930.1 258.2 L928.6 258.8 L928.6 111.4 Z" fill="#8d8d8f" stroke="#222" stroke-width="0.8" stroke-linejoin="round" />
<path d="M939.4 117.2 L941.8 118.6 L941.8 262.8 L939.4 261.6 Z" fill="#2e2e2e" stroke="#222" stroke-width="0.5" stroke-linejoin="round" />
<path d="M912.5 121.8 L927.4 110.4 L918.3 118.6 Z" fill="#c96a0a" stroke="#2a1204" stroke-width="0.6" stroke-linejoin="round" />
<ellipse cx="933.8" cy="125.4" rx="2.40" ry="3.40" fill="#e6e6e6" stroke="#222" stroke-width="0.9" transform="rotate(-25 933.8 125.4)"/>
<ellipse cx="934.0" cy="187.5" rx="2.40" ry="3.40" fill="#e6e6e6" stroke="#222" stroke-width="0.9" transform="rotate(-25 934.0 187.5)"/>
<ellipse cx="933.8" cy="248.6" rx="2.40" ry="3.40" fill="#e6e6e6" stroke="#222" stroke-width="0.9" transform="rotate(-25 933.8 248.6)"/>
<ellipse cx="898.4" cy="147.0" rx="2.70" ry="3.30" fill="#a2a2aa" stroke="#1a1a1a" stroke-width="1.2" transform="rotate(25 898.4 147.0)"/>
<line x1="897.4" y1="148.5" x2="899.6" y2="145.3" stroke="#22222c" stroke-width="1.0" />
<ellipse cx="898.2" cy="202.9" rx="2.70" ry="3.30" fill="#a2a2aa" stroke="#1a1a1a" stroke-width="1.2" transform="rotate(25 898.2 202.9)"/>
<line x1="897.2" y1="204.4" x2="899.4" y2="201.2" stroke="#22222c" stroke-width="1.0" />
<ellipse cx="898.0" cy="258.3" rx="2.70" ry="3.30" fill="#a2a2aa" stroke="#1a1a1a" stroke-width="1.2" transform="rotate(25 898.0 258.3)"/>
<line x1="897.0" y1="259.8" x2="899.2" y2="256.6" stroke="#22222c" stroke-width="1.0" />
<path d="M769.7 22.5 L772.8 19.6 L772.8 34.6 L770.2 38.0 Z" fill="#2c2c32" stroke="#1a1a1a" stroke-width="0.6" stroke-linejoin="round" />
<path d="M764.0 15.3 L767.2 14.6 L772.8 19.6 L769.7 22.5 Z" fill="#33333a" stroke="#1a1a1a" stroke-width="0.6" stroke-linejoin="round" />
<path d="M744.4 20.5 L749.1 27.2 L749.6 41.2 L745.5 35.2 Z" fill="#53535a" stroke="#1a1a1a" stroke-width="0.7" stroke-linejoin="round" />
<path d="M749.1 27.2 L760.9 28.2 L760.5 42.8 L749.6 41.2 Z" fill="#6b6b73" stroke="#1a1a1a" stroke-width="0.7" stroke-linejoin="round" />
<path d="M760.9 28.2 L769.7 22.5 L770.2 38.0 L760.5 42.8 Z" fill="#4a4a52" stroke="#1a1a1a" stroke-width="0.7" stroke-linejoin="round" />
<path d="M744.4 20.5 L753.2 14.8 L764.0 15.3 L769.7 22.5 L760.9 28.2 L749.1 27.2 Z" fill="#cfcfd2" stroke="#1a1a1a" stroke-width="0.8" stroke-linejoin="round" />
<ellipse cx="757.3" cy="21.4" rx="8.20" ry="4.70" fill="#3d3d40" stroke="#1a1a1a" stroke-width="0.8" transform="rotate(4 757.3 21.4)"/>
<ellipse cx="758.0" cy="22.6" rx="6.20" ry="3.10" fill="#55555a" stroke="none" stroke-width="0" />
<path d="M912.7 105.0 L915.8 102.1 L915.8 117.1 L913.2 120.5 Z" fill="#2c2c32" stroke="#1a1a1a" stroke-width="0.6" stroke-linejoin="round" />
<path d="M907.0 97.8 L910.2 97.1 L915.8 102.1 L912.7 105.0 Z" fill="#33333a" stroke="#1a1a1a" stroke-width="0.6" stroke-linejoin="round" />
<path d="M887.4 103.0 L892.1 109.7 L892.6 123.7 L888.5 117.7 Z" fill="#53535a" stroke="#1a1a1a" stroke-width="0.7" stroke-linejoin="round" />
<path d="M892.1 109.7 L903.9 110.7 L903.5 125.3 L892.6 123.7 Z" fill="#6b6b73" stroke="#1a1a1a" stroke-width="0.7" stroke-linejoin="round" />
<path d="M903.9 110.7 L912.7 105.0 L913.2 120.5 L903.5 125.3 Z" fill="#4a4a52" stroke="#1a1a1a" stroke-width="0.7" stroke-linejoin="round" />
<path d="M887.4 103.0 L896.2 97.3 L907.0 97.8 L912.7 105.0 L903.9 110.7 L892.1 109.7 Z" fill="#cfcfd2" stroke="#1a1a1a" stroke-width="0.8" stroke-linejoin="round" />
<ellipse cx="900.3" cy="103.9" rx="8.20" ry="4.70" fill="#3d3d40" stroke="#1a1a1a" stroke-width="0.8" transform="rotate(4 900.3 103.9)"/>
<ellipse cx="901.0" cy="105.1" rx="6.20" ry="3.10" fill="#55555a" stroke="none" stroke-width="0" />
<path d="M901.6 240.0 L909.1 230.3 L920.8 234.9 L914.7 245.6 Z" fill="#b2b2b6" stroke="#1a1a1a" stroke-width="0.8" stroke-linejoin="round" />
<path d="M901.6 240.0 L914.7 245.6 L914.2 255.9 L901.6 249.8 Z" fill="#85858b" stroke="#1a1a1a" stroke-width="0.8" stroke-linejoin="round" />
<path d="M914.7 245.6 L920.8 234.9 L927.3 237.2 L928.7 248.0 L921.2 256.8 L914.2 255.9 Z" fill="#5a5a60" stroke="#1a1a1a" stroke-width="0.8" stroke-linejoin="round" />
<ellipse cx="921.7" cy="246.5" rx="5.20" ry="8.00" fill="url(#gHole)" stroke="#1a1a1a" stroke-width="0.8" transform="rotate(12 921.7 246.5)"/>
<line x1="746.5" y1="112.5" x2="731.2" y2="89.2" stroke="#17120e" stroke-width="3.4" stroke-linecap="round"/>
<line x1="822.0" y1="247.0" x2="829.7" y2="261.9" stroke="#17120e" stroke-width="3.4" stroke-linecap="round"/>
<line x1="726.0" y1="206.0" x2="721.5" y2="209.5" stroke="#17120e" stroke-width="3.4" stroke-linecap="round"/>
<circle r="0.985" cx="0" cy="0" transform="matrix(67.75 27.74 0 77.67 772.10 181.20)" fill="#0c0b0a" stroke="#050505" stroke-width="3.6" vector-effect="non-scaling-stroke"/>
<path d="M747.0 103.6 L751.2 103.6 L755.5 103.9 L759.9 104.7 L764.4 105.8 L768.8 107.2 L773.3 109.1 L777.8 111.3 L782.2 113.8 L786.6 116.7 L790.9 119.8 L795.1 123.3 L799.2 127.1 L803.2 131.1 L807.0 135.4 L810.6 139.9 L814.0 144.6 L817.3 149.5 L820.3 154.6 L823.0 159.7 L825.5 165.0 L827.8 170.4 L829.7 175.8 L831.4 181.3 L832.8 186.7" fill="none" stroke="#cf7812" stroke-width="1.4" stroke-linecap="round"/>
<path d="M754.4 107.5 L758.6 108.1 L762.8 109.1 L767.1 110.4 L771.4 112.1 L775.7 114.1 L779.9 116.4 L784.1 119.1 L788.3 122.1 L792.4 125.3 L796.3 128.9 L800.1 132.7 L803.8 136.7 L807.3 141.0 L810.7 145.4 L813.8 150.1 L816.7 154.9 L819.4 159.8 L821.9 164.9 L824.1 170.0 L826.1 175.2 L827.7 180.4 L829.1 185.6" fill="none" stroke="#cf7812" stroke-width="1.4" stroke-linecap="round"/>
<path d="M761.4 112.4 L765.5 113.6 L769.6 115.1 L773.7 117.0 L777.8 119.1 L781.8 121.6 L785.8 124.4 L789.7 127.4 L793.5 130.7 L797.2 134.3 L800.7 138.1 L804.2 142.1 L807.4 146.4 L810.4 150.8 L813.3 155.3 L815.9 160.0 L818.3 164.8 L820.5 169.7 L822.4 174.6 L824.1 179.6 L825.5 184.6" fill="none" stroke="#cf7812" stroke-width="1.4" stroke-linecap="round"/>
<path d="M767.9 118.2 L771.8 119.9 L775.7 121.9 L779.6 124.2 L783.4 126.7 L787.2 129.6 L790.8 132.7 L794.4 136.0 L797.8 139.6 L801.1 143.4 L804.2 147.4 L807.2 151.5 L809.9 155.8 L812.5 160.3 L814.8 164.8 L817.0 169.5 L818.9 174.2 L820.5 178.9" fill="none" stroke="#cf7812" stroke-width="1.4" stroke-linecap="round"/>
<path d="M773.8 124.7 L777.5 126.8 L781.1 129.1 L784.7 131.8 L788.2 134.7 L791.6 137.8 L794.9 141.2 L798.1 144.7 L801.1 148.5 L804.0 152.4 L806.6 156.5 L809.1 160.7 L811.4 165.0 L813.5 169.4 L815.4 173.8 L817.0 178.3" fill="none" stroke="#cf7812" stroke-width="1.4" stroke-linecap="round"/>
<path d="M833.4 189.5 L834.3 194.9 L834.9 200.2 L835.3 205.5 L835.3 210.6 L834.9 215.6 L834.3 220.4 L833.4 225.1 L832.2 229.5 L830.6 233.7 L828.8 237.7 L826.7 241.3 L824.3 244.7 L821.7 247.8 L818.8 250.6" fill="none" stroke="#7a430f" stroke-width="1.1" stroke-linecap="round"/>
<path d="M829.4 186.9 L830.5 192.1 L831.2 197.3 L831.7 202.4 L831.8 207.3 L831.7 212.2 L831.2 216.9 L830.5 221.4 L829.4 225.8 L828.1 229.9 L826.5 233.8 L824.6 237.5 L822.5 240.9 L820.1 244.0 L817.4 246.8 L814.6 249.3" fill="none" stroke="#7a430f" stroke-width="1.1" stroke-linecap="round"/>
<path d="M825.5 184.6 L826.6 189.6 L827.5 194.5 L828.1 199.4 L828.4 204.2 L828.4 208.9 L828.1 213.5 L827.5 218.0 L826.6 222.2 L825.5 226.3 L824.1 230.1 L822.4 233.7 L820.5 237.1 L818.3 240.2 L815.9 243.0 L813.3 245.5 L810.4 247.8 L807.4 249.7" fill="none" stroke="#7a430f" stroke-width="1.1" stroke-linecap="round"/>
<path d="M821.6 182.5 L822.8 187.3 L823.8 192.0 L824.4 196.7 L824.9 201.3 L825.0 205.9 L824.9 210.3 L824.4 214.6 L823.8 218.7 L822.8 222.7 L821.6 226.5 L820.1 230.0 L818.4 233.4 L816.5 236.5 L814.3 239.3 L811.9 241.8 L809.2 244.1 L806.4 246.1 L803.4 247.7" fill="none" stroke="#7a430f" stroke-width="1.1" stroke-linecap="round"/>
<path d="M817.7 180.6 L819.0 185.1 L820.0 189.7 L820.8 194.1 L821.3 198.6 L821.6 203.0 L821.6 207.2 L821.3 211.4 L820.8 215.4 L820.0 219.3 L819.0 222.9 L817.7 226.4 L816.2 229.7 L814.5 232.8 L812.5 235.6 L810.3 238.2 L807.9 240.4 L805.3 242.5 L802.6 244.2 L799.6 245.6" fill="none" stroke="#7a430f" stroke-width="1.1" stroke-linecap="round"/>
<path d="M812.8 250.2 L809.7 252.2 L806.3 253.8 L802.7 255.1 L799.0 256.0 L795.2 256.6 L791.2 256.8 L787.2 256.7 L783.0 256.2 L778.8 255.3 L774.5 254.0 L770.3 252.5 L766.0 250.5 L761.7 248.3 L757.5 245.7 L753.4 242.8 L749.3 239.6 L745.3 236.2 L741.5 232.5 L737.8 228.5 L734.2 224.3" fill="none" stroke="#d27a12" stroke-width="1.4" stroke-linecap="round"/>
<path d="M808.3 248.1 L805.2 249.8 L801.9 251.2 L798.5 252.2 L794.9 253.0 L791.2 253.3 L787.4 253.4 L783.5 253.0 L779.5 252.4 L775.5 251.4 L771.4 250.1 L767.4 248.4 L763.3 246.4 L759.3 244.1 L755.3 241.5 L751.4 238.6 L747.6 235.5 L743.9 232.1 L740.3 228.4 L736.9 224.6" fill="none" stroke="#d27a12" stroke-width="1.4" stroke-linecap="round"/>
<path d="M803.9 245.8 L800.9 247.2 L797.7 248.4 L794.4 249.2 L791.0 249.7 L787.4 249.9 L783.8 249.8 L780.0 249.3 L776.3 248.6 L772.4 247.5 L768.6 246.0 L764.8 244.3 L761.0 242.3 L757.2 240.0 L753.5 237.4 L749.8 234.5 L746.3 231.4 L742.8 228.1 L739.5 224.5" fill="none" stroke="#d27a12" stroke-width="1.4" stroke-linecap="round"/>
<path d="M799.7 243.3 L796.8 244.5 L793.7 245.4 L790.5 246.1 L787.2 246.4 L783.8 246.4 L780.4 246.2 L776.8 245.6 L773.3 244.7 L769.7 243.5 L766.0 242.0 L762.4 240.2 L758.9 238.2 L755.3 235.9 L751.9 233.3 L748.5 230.5 L745.2 227.5" fill="none" stroke="#d27a12" stroke-width="1.4" stroke-linecap="round"/>
<path d="M795.7 240.6 L792.9 241.6 L789.9 242.3 L786.9 242.8 L783.8 243.0 L780.5 242.8 L777.2 242.4 L773.9 241.7 L770.5 240.8 L767.1 239.5 L763.8 238.0 L760.4 236.2 L757.0 234.2 L753.8 231.9 L750.5 229.4 L747.4 226.6" fill="none" stroke="#d27a12" stroke-width="1.4" stroke-linecap="round"/>
<path d="M791.9 237.7 L789.2 238.5 L786.4 239.1 L783.5 239.4 L780.5 239.4 L777.5 239.2 L774.4 238.7 L771.2 237.9 L768.1 236.8 L764.9 235.5 L761.7 234.0 L758.6 232.2 L755.5 230.2 L752.5 227.9 L749.5 225.5" fill="none" stroke="#a85c10" stroke-width="1.4" stroke-linecap="round"/>
<path d="M788.2 234.7 L785.7 235.3 L783.0 235.7 L780.3 235.9 L777.5 235.8 L774.6 235.4 L771.7 234.8 L768.8 234.0 L765.9 232.9 L762.9 231.6 L760.0 230.0 L757.1 228.2 L754.2 226.3 L751.4 224.1" fill="none" stroke="#a85c10" stroke-width="1.4" stroke-linecap="round"/>
<path d="M721.9 208.9 L719.1 203.8 L716.6 198.5 L714.4 193.1 L712.4 187.7 L710.7 182.2 L709.3 176.8 L708.2 171.3 L707.5 166.0 L707.0 160.6 L706.8 155.4 L707.0 150.4 L707.5 145.5 L708.2 140.7 L709.3 136.2 L710.7 131.9 L712.4 127.8 L714.4 124.0 L716.6 120.4 L719.1 117.2 L721.9 114.3 L724.9 111.7 L728.1 109.4 L731.5 107.5 L735.2 106.0 L739.0 104.8 L742.9 104.0 L747.0 103.6 L751.2 103.6 L755.5 103.9" fill="none" stroke="#3a2612" stroke-width="0.8" stroke-linecap="round"/>
<path d="M723.2 208.2 L720.5 203.2 L718.1 198.2 L716.0 193.0 L714.1 187.8 L712.5 182.6 L711.2 177.4 L710.1 172.2 L709.4 167.0 L708.9 161.9 L708.8 157.0 L708.9 152.1 L709.4 147.4 L710.1 142.8 L711.2 138.5 L712.5 134.4 L714.1 130.5 L716.0 126.8 L718.1 123.4 L720.5 120.3 L723.2 117.5 L726.1 115.0 L729.1 112.9 L732.4 111.1 L735.9 109.6 L739.6 108.5 L743.3 107.7 L747.3 107.3 L751.3 107.3 L755.4 107.6" fill="none" stroke="#3a2612" stroke-width="0.8" stroke-linecap="round"/>
<path d="M724.5 207.4 L722.0 202.7 L719.7 197.8 L717.7 192.9 L715.9 188.0 L714.3 183.0 L713.1 178.0 L712.1 173.0 L711.4 168.1 L710.9 163.2 L710.8 158.5 L710.9 153.8 L711.4 149.3 L712.1 145.0 L713.1 140.8 L714.3 136.8 L715.9 133.1 L717.7 129.6 L719.7 126.4 L722.0 123.4 L724.5 120.8 L727.3 118.4 L730.2 116.3 L733.4 114.6 L736.7 113.2 L740.2 112.1 L743.8 111.4 L747.6 111.0 L751.4 111.0 L755.4 111.3" fill="none" stroke="#3a2612" stroke-width="0.8" stroke-linecap="round"/>
<path d="M725.9 206.6 L723.5 202.1 L721.3 197.5 L719.4 192.8 L717.6 188.1 L716.2 183.3 L715.0 178.5 L714.0 173.8 L713.3 169.1 L712.9 164.5 L712.8 159.9 L712.9 155.5 L713.3 151.2 L714.0 147.1 L715.0 143.1 L716.2 139.3 L717.6 135.8 L719.4 132.4 L721.3 129.3 L723.5 126.5 L725.9 124.0 L728.5 121.7 L731.4 119.7 L734.4 118.1 L737.5 116.7 L740.8 115.7 L744.3 115.0 L747.9 114.7 L751.6 114.6 L755.3 114.9" fill="none" stroke="#3a2612" stroke-width="0.8" stroke-linecap="round"/>
<path d="M722.1 159.0 L722.6 155.7 L723.4 152.5 L724.3 149.5 L725.5 146.7 L726.9 144.0 L728.4 141.6 L730.2 139.3 L732.1 137.3 L734.2 135.5 L736.4 133.9 L738.8 132.6 L741.3 131.5 L744.0 130.7 L746.7 130.1 L749.6 129.9 L752.5 129.8 L755.5 130.1 L758.6 130.6 L761.7 131.4 L764.8 132.4 L767.9 133.7 L771.0 135.2 L774.1 136.9 L777.2 138.9 L780.2 141.2 L783.1 143.6 L785.9 146.2 L788.7 149.0" fill="none" stroke="#3a3a3c" stroke-width="0.7" stroke-linecap="round"/>
<path d="M724.8 161.2 L725.3 158.2 L726.0 155.3 L726.9 152.5 L727.9 149.9 L729.2 147.4 L730.6 145.1 L732.3 143.1 L734.0 141.2 L736.0 139.5 L738.0 138.1 L740.3 136.8 L742.6 135.8 L745.0 135.1 L747.6 134.6 L750.2 134.3 L752.9 134.3 L755.7 134.5 L758.5 135.0 L761.4 135.7 L764.3 136.7 L767.1 137.8 L770.0 139.2 L772.9 140.9 L775.7 142.7 L778.5 144.8 L781.2 147.0 L783.8 149.4 L786.4 152.0" fill="none" stroke="#3a3a3c" stroke-width="0.7" stroke-linecap="round"/>
<path d="M727.5 163.5 L728.0 160.7 L728.6 158.0 L729.4 155.4 L730.4 153.0 L731.6 150.8 L732.9 148.7 L734.4 146.8 L736.0 145.0 L737.8 143.5 L739.7 142.2 L741.7 141.1 L743.9 140.2 L746.1 139.5 L748.5 139.0 L750.9 138.8 L753.4 138.7 L755.9 138.9 L758.5 139.4 L761.1 140.0 L763.8 140.9 L766.4 142.0 L769.1 143.3 L771.7 144.8 L774.3 146.5 L776.8 148.3 L779.3 150.4 L781.7 152.6 L784.1 155.0" fill="none" stroke="#3a3a3c" stroke-width="0.7" stroke-linecap="round"/>
<path d="M730.3 165.7 L730.8 163.1 L731.3 160.7 L732.1 158.4 L733.0 156.2 L734.0 154.1 L735.3 152.2 L736.6 150.5 L738.1 148.9 L739.7 147.5 L741.4 146.3 L743.3 145.3 L745.2 144.4 L747.3 143.8 L749.4 143.4 L751.6 143.2 L753.9 143.2 L756.2 143.3 L758.6 143.7 L760.9 144.3 L763.3 145.1 L765.8 146.1 L768.2 147.3 L770.6 148.6 L772.9 150.2 L775.2 151.9 L777.5 153.8 L779.7 155.8 L781.8 158.0" fill="none" stroke="#3a3a3c" stroke-width="0.7" stroke-linecap="round"/>
<path d="M733.2 167.8 L733.6 165.5 L734.1 163.3 L734.8 161.2 L735.6 159.3 L736.5 157.4 L737.6 155.7 L738.8 154.1 L740.2 152.7 L741.6 151.5 L743.2 150.4 L744.9 149.4 L746.6 148.7 L748.5 148.1 L750.4 147.8 L752.4 147.6 L754.4 147.5 L756.5 147.7 L758.6 148.1 L760.8 148.6 L763.0 149.3 L765.1 150.2 L767.3 151.3 L769.5 152.5 L771.6 153.9 L773.7 155.4 L775.7 157.1 L777.7 158.9 L779.6 160.9" fill="none" stroke="#3a3a3c" stroke-width="0.7" stroke-linecap="round"/>
<path d="M736.1 170.0 L736.4 167.9 L736.9 166.0 L737.5 164.1 L738.2 162.3 L739.1 160.7 L740.1 159.2 L741.1 157.8 L742.3 156.5 L743.6 155.4 L745.0 154.4 L746.5 153.6 L748.1 152.9 L749.7 152.4 L751.4 152.1 L753.2 151.9 L755.0 151.9 L756.9 152.0 L758.8 152.4 L760.7 152.8 L762.6 153.5 L764.6 154.3 L766.5 155.2 L768.4 156.3 L770.3 157.5 L772.2 158.9 L774.0 160.4 L775.8 162.1 L777.5 163.8" fill="none" stroke="#3a3a3c" stroke-width="0.7" stroke-linecap="round"/>
<path d="M739.1 172.1 L739.4 170.3 L739.8 168.6 L740.3 167.0 L740.9 165.4 L741.7 164.0 L742.5 162.6 L743.5 161.4 L744.5 160.3 L745.7 159.3 L746.9 158.4 L748.2 157.7 L749.6 157.1 L751.0 156.7 L752.5 156.4 L754.1 156.2 L755.7 156.2 L757.3 156.4 L759.0 156.6 L760.7 157.0 L762.4 157.6 L764.1 158.3 L765.8 159.1 L767.5 160.1 L769.1 161.2 L770.8 162.4 L772.4 163.7 L773.9 165.1 L775.4 166.7" fill="none" stroke="#3a3a3c" stroke-width="0.7" stroke-linecap="round"/>
<path d="M742.1 174.2 L742.3 172.7 L742.7 171.2 L743.1 169.8 L743.7 168.4 L744.3 167.2 L745.1 166.0 L745.9 165.0 L746.8 164.0 L747.8 163.2 L748.8 162.4 L749.9 161.8 L751.1 161.3 L752.4 160.9 L753.7 160.7 L755.0 160.5 L756.4 160.5 L757.8 160.6 L759.2 160.9 L760.7 161.2 L762.1 161.7 L763.6 162.3 L765.1 163.0 L766.5 163.9 L768.0 164.8 L769.4 165.8 L770.7 167.0 L772.1 168.2 L773.4 169.5" fill="none" stroke="#3a3a3c" stroke-width="0.7" stroke-linecap="round"/>
<line x1="792.0" y1="169.5" x2="830.5" y2="148.4" stroke="#17120e" stroke-width="3.2" stroke-linecap="round"/>
<ellipse cx="731.2" cy="89.2" rx="2.00" ry="2.90" fill="#cfc8c0" stroke="#17120e" stroke-width="1.0" transform="rotate(-30 731.2 89.2)"/>
<ellipse cx="830.5" cy="148.4" rx="2.00" ry="2.90" fill="#cfc8c0" stroke="#17120e" stroke-width="1.0" transform="rotate(-120 830.5 148.4)"/>
<ellipse cx="829.7" cy="261.9" rx="2.00" ry="2.90" fill="#cfc8c0" stroke="#17120e" stroke-width="1.0" transform="rotate(-30 829.7 261.9)"/>
<circle r="0.225" cx="0" cy="0" transform="matrix(67.75 27.74 0 77.67 760.6 187.4)" fill="#2c2c2e" stroke="#050505" stroke-width="1.5" vector-effect="non-scaling-stroke"/>
<circle r="0.215" cx="0" cy="0" transform="matrix(67.75 27.74 0 77.67 762.4 186.6)" fill="#b3b3b5" stroke="#050505" stroke-width="2" vector-effect="non-scaling-stroke"/>
<ellipse cx="754.9" cy="174.2" rx="2.30" ry="3.00" fill="#a8a8ac" stroke="#141414" stroke-width="1.9" transform="rotate(-15 754.9 174.2)"/>
<ellipse cx="770.6" cy="182.4" rx="2.30" ry="3.00" fill="#a8a8ac" stroke="#141414" stroke-width="1.9" transform="rotate(-15 770.6 182.4)"/>
<ellipse cx="755.4" cy="191.9" rx="2.30" ry="3.00" fill="#a8a8ac" stroke="#141414" stroke-width="1.9" transform="rotate(-15 755.4 191.9)"/>
<ellipse cx="770.2" cy="199.3" rx="2.30" ry="3.00" fill="#a8a8ac" stroke="#141414" stroke-width="1.9" transform="rotate(-15 770.2 199.3)"/>
</g>
<!-- outer frame -->
<rect x="0" y="0" width="970" height="1" fill="#b8b8b8"/>
<rect x="0" y="0" width="1.1" height="698" fill="#d8d8d8"/>
<rect x="968.7" y="0" width="1.3" height="698" fill="#dedede"/>
<rect x="0" y="696.9" width="970" height="1.1" fill="#e0e0e0"/>
</svg>
</body></html>
